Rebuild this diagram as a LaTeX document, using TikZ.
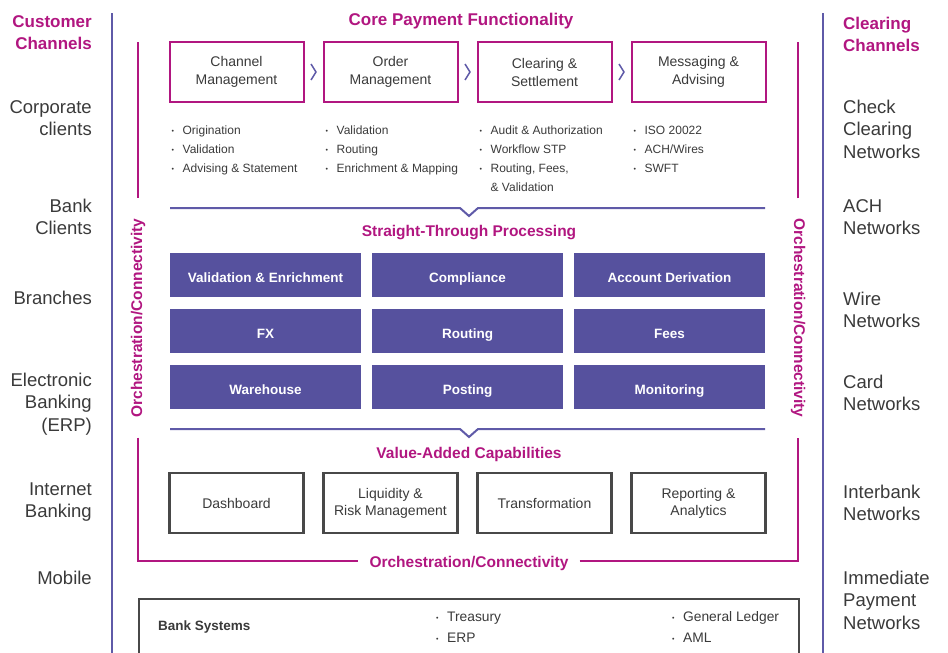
\documentclass[tikz,border=0pt]{standalone}
\usepackage{fontspec}
\setmainfont{Liberation Sans}
\usepackage{tikz}
\usetikzlibrary{positioning,calc}
\definecolor{brandmag}{RGB}{177,22,128}
\definecolor{brandpurp}{RGB}{86,81,158}
\definecolor{brandline}{RGB}{95,90,168}
\definecolor{inktext}{RGB}{58,58,58}
\definecolor{inkbox}{RGB}{72,72,72}
\newcommand{\bul}{{\fontsize{7}{7}\selectfont\raisebox{1.5pt}{•}}}
\begin{document}
\begin{tikzpicture}[x=1pt,y=-1pt,color=inktext,
  core node/.style={draw=brandmag,line width=2pt,outer sep=0pt,minimum width=134pt,minimum height=60pt,inner sep=0pt,align=center,font=\fontsize{14}{18}\selectfont},
  stp node/.style={fill=brandpurp,text=white,outer sep=0pt,minimum width=191pt,minimum height=44pt,inner sep=0pt,text height=15pt,text depth=0pt,font=\bfseries\fontsize{13.5}{16}\selectfont},
  value node/.style={draw=inkbox,line width=2.5pt,outer sep=0pt,minimum width=134pt,minimum height=60pt,inner sep=0pt,align=center,font=\fontsize{14}{17}\selectfont},
  head/.style={text=brandmag,font=\bfseries\fontsize{17}{22}\selectfont},
  sub head/.style={text=brandmag,font=\bfseries\fontsize{15.5}{18}\selectfont},
  left label/.style={anchor=east,align=right,inner sep=0pt,font=\fontsize{18.5}{22.5}\selectfont},
  right label/.style={anchor=west,align=left,inner sep=0pt,font=\fontsize{18.5}{22.5}\selectfont},
  left head/.style={anchor=east,align=right,inner sep=0pt,text=brandmag,font=\bfseries\fontsize{17}{22}\selectfont},
  right head/.style={anchor=west,align=left,inner sep=0pt,text=brandmag,font=\bfseries\fontsize{17}{22}\selectfont},
  bullets/.style={anchor=north west,inner sep=0pt,font=\fontsize{12}{19}\selectfont},
  bank list/.style={anchor=north west,inner sep=0pt,font=\fontsize{13.8}{21}\selectfont},
  chev/.style={draw=brandline,line width=1.5pt},
  rule/.style={draw=brandline,line width=2pt},
  orch/.style={draw=brandmag,line width=2pt}]
  \useasboundingbox (0,0) rectangle (948,653);
  \draw[rule] (112,13) -- (112,653);
  \draw[rule] (823,13) -- (823,653);

  \node[left head] (cust) at (92,33) {Customer\\Channels};
  \node[left label] (corp) at (92,118) {Corporate\\clients};
  \node[left label] (bankcl) at (92,217) {Bank\\Clients};
  \node[left label] (branch) at (92,298) {Branches};
  \node[left label] (erp) at (92,404) {Electronic\\Banking\\(ERP)};
  \node[left label] (inet) at (92,502) {Internet\\Banking};
  \node[left label] (mobile) at (92,578) {Mobile};

  \node[right head] (clrch) at (843,34) {Clearing\\Channels};
  \node[right label] (check) at (843,129) {Check\\Clearing\\Networks};
  \node[right label] (ach) at (843,217) {ACH\\Networks};
  \node[right label] (wire) at (843,310) {Wire\\Networks};
  \node[right label] (card) at (843,393) {Card\\Networks};
  \node[right label] (ibank) at (843,503) {Interbank\\Networks};
  \node[right label] (imm) at (843,600) {Immediate\\Payment\\Networks};

  \node[head] (coretitle) at (461,21) {Core Payment Functionality};
  \node[core node] (chan) at (236.5,72) {Channel\\Management};
  \node[core node,right=20pt of chan] (order) {Order\\Management};
  \node[core node,right=20pt of order] (clear) {Clearing \&\\Settlement};
  \node[core node,right=20pt of clear] (msg) {Messaging \&\\Advising};
  \foreach \a/\b in {chan/order,order/clear,clear/msg}
    \draw[chev] ($(\a.east)!.5!(\b.west)$) ++(-2.5,-8) -- ++(5,8) -- ++(-5,8);

  \node[bullets] (chanlist) at ([xshift=2pt,yshift=-19pt]chan.south west) {\begin{tabular}{@{}l@{\hspace{8.5pt}}l@{}}\bul & Origination\\ \bul & Validation\\ \bul & Advising \& Statement\end{tabular}};
  \node[bullets] (orderlist) at ([xshift=2pt,yshift=-19pt]order.south west) {\begin{tabular}{@{}l@{\hspace{8.5pt}}l@{}}\bul & Validation\\ \bul & Routing\\ \bul & Enrichment \& Mapping\end{tabular}};
  \node[bullets] (clearlist) at ([xshift=2pt,yshift=-19pt]clear.south west) {\begin{tabular}{@{}l@{\hspace{8.5pt}}l@{}}\bul & Audit \& Authorization\\ \bul & Workflow STP\\ \bul & Routing, Fees,\\ & \& Validation\end{tabular}};
  \node[bullets] (msglist) at ([xshift=2pt,yshift=-19pt]msg.south west) {\begin{tabular}{@{}l@{\hspace{8.5pt}}l@{}}\bul & ISO 20022\\ \bul & ACH/Wires\\ \bul & SWFT\end{tabular}};

  \draw[rule] (170,208) -- (460,208) -- (469,216) -- (478,208) -- (765,208);
  \node[sub head] (stptitle) at (469,233) {Straight-Through Processing};
  \node[stp node] (valid) at (265.5,275) {Validation \& Enrichment};
  \node[stp node,right=11pt of valid] (compl) {Compliance};
  \node[stp node,right=11pt of compl] (acct) {Account Derivation};
  \node[stp node,below=12pt of valid] (fx) {FX};
  \node[stp node,right=11pt of fx] (routing) {Routing};
  \node[stp node,right=11pt of routing] (fees) {Fees};
  \node[stp node,below=12pt of fx] (ware) {Warehouse};
  \node[stp node,right=11pt of ware] (posting) {Posting};
  \node[stp node,right=11pt of posting] (monit) {Monitoring};

  \draw[rule] (170,429) -- (460,429) -- (469,437) -- (478,429) -- (765,429);
  \node[sub head] (vatitle) at (469,454) {Value-Added Capabilities};
  \node[value node] (dash) at (236.5,503) {Dashboard};
  \node[value node,right=20pt of dash] (liq) {Liquidity \&\\Risk Management};
  \node[value node,right=20pt of liq] (trans) {Transformation};
  \node[value node,right=20pt of trans] (report) {Reporting \&\\Analytics};

  \node[sub head,rotate=90,inner xsep=20pt] (orchL) at (138,318) {Orchestration/Connectivity};
  \node[sub head,rotate=-90,inner xsep=20pt] (orchR) at (798,318) {Orchestration/Connectivity};
  \node[sub head,inner xsep=11pt] (orchB) at (469,563) {Orchestration/Connectivity};
  \coordinate (frameBL) at (138,561);
  \coordinate (frameBR) at (798,561);
  \draw[orch] (138,42) -- (orchL.east);
  \draw[orch] (orchL.west) -- (frameBL) -- (frameBL -| orchB.west);
  \draw[orch] (frameBR -| orchB.east) -- (frameBR) -- (orchR.east);
  \draw[orch] (orchR.west) -- (798,42);

  \node[draw=inkbox,line width=2pt,minimum width=660pt,minimum height=80pt,inner sep=0pt,anchor=north west] (banksys) at (138,598) {};
  \node[anchor=west,inner sep=0pt,font=\bfseries\fontsize{13.5}{16}\selectfont] (banklbl) at (158,627) {Bank Systems};
  \node[bank list] (banklistA) at (436,607) {\begin{tabular}{@{}l@{\hspace{8.5pt}}l@{}}\bul & Treasury\\ \bul & ERP\end{tabular}};
  \node[bank list] (banklistB) at (672,607) {\begin{tabular}{@{}l@{\hspace{8.5pt}}l@{}}\bul & General Ledger\\ \bul & AML\end{tabular}};
\end{tikzpicture}
\end{document}
